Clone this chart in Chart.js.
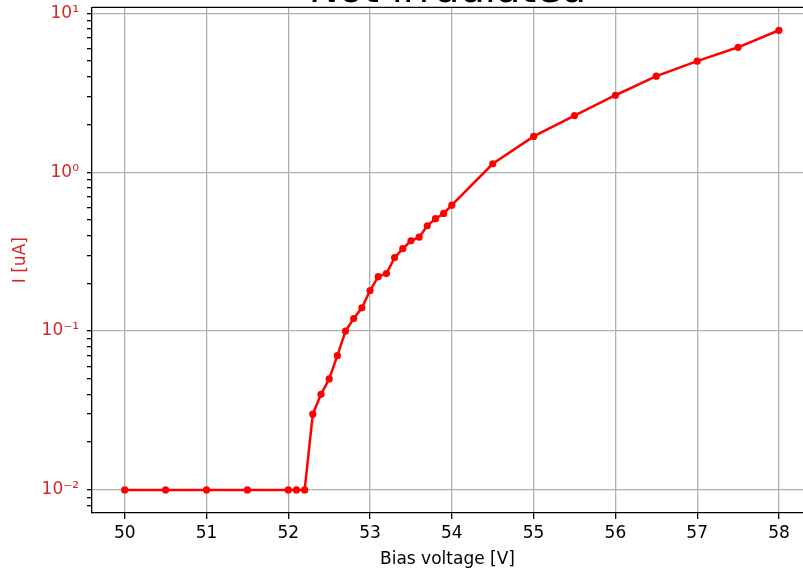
<!DOCTYPE html>
<html>
<head>
<meta charset="utf-8">
<title>Not irradiated</title>
<script src="https://cdn.jsdelivr.net/npm/chart.js@4/dist/chart.umd.min.js"></script>
<style>
    html, body { margin: 0; padding: 0; background: #fff; }
    canvas { display: block; }
</style>
</head>
<body>
<canvas id="iv-chart" width="803" height="569"></canvas>
<script>
// IV-Kurve, nicht bestrahlter Sensor
const biasVoltage = [50, 50.5, 51, 51.5, 52, 52.1, 52.2, 52.3, 52.4, 52.5, 52.6, 52.7, 52.8, 52.9,
    53.0, 53.1, 53.2, 53.3, 53.4, 53.5, 53.6, 53.7, 53.8, 53.9, 54.0, 54.5, 55, 55.5, 56, 56.5, 57, 57.5, 58];
const current = [0.01, 0.01, 0.01, 0.01, 0.01, 0.01, 0.01, 0.03, 0.04, 0.05, 0.07, 0.10, 0.12, 0.14,
    0.18, 0.22, 0.23, 0.29, 0.33, 0.37, 0.39, 0.46, 0.51, 0.55, 0.62, 1.13, 1.68, 2.27, 3.05, 4.02, 5.0, 6.11, 7.82];

const xTicks = [50, 51, 52, 53, 54, 55, 56, 57, 58];
const yMajorTicks = [0.01, 0.1, 1, 10];
const yMajorLabels = ['10⁻²', '10⁻¹', '10⁰', '10¹'];

const RED = '#d62728';
const GRID = '#b0b0b0';
const FONT = 'DejaVu Sans';

// Haupt- und Nebenticks (2..9 je Dekade)
function buildLogTicks(min, max) {
    const ticks = [];
    for (let e = -3; e <= 1; e++) {
        for (let m = 1; m <= 9; m++) {
            const v = m * Math.pow(10, e);
            if (v >= min && v <= max) ticks.push({ value: v });
        }
    }
    return ticks;
}

function majorIndex(v) {
    return yMajorTicks.findIndex(t => Math.abs(t - v) / t < 1e-9);
}

// obere Achsenlinie
const topSpinePlugin = {
    id: 'topSpine',
    afterDraw(chart) {
        const { ctx, chartArea: a } = chart;
        ctx.save();
        ctx.strokeStyle = '#000';
        ctx.lineWidth = 1.3;
        ctx.beginPath();
        ctx.moveTo(a.left, a.top);
        ctx.lineTo(a.right, a.top);
        ctx.stroke();
        ctx.restore();
    }
};

new Chart(document.getElementById('iv-chart'), {
    type: 'line',
    data: {
        datasets: [{
            data: biasVoltage.map((v, i) => ({ x: v, y: current[i] })),
            borderColor: '#ff0000',
            backgroundColor: '#ff0000',
            borderWidth: 2.5,
            pointRadius: 3.6,
            pointBorderWidth: 0,
            tension: 0
        }]
    },
    options: {
        responsive: false,
        animation: false,
        layout: {
            autoPadding: false,
            padding: 0
        },
        plugins: {
            legend: { display: false },
            tooltip: { enabled: false },
            title: {
                display: true,
                text: 'Not irradiated',
                fullSize: false,
                color: '#000',
                font: { family: FONT, size: 40, weight: 'normal' },
                padding: { top: -32.5, bottom: -8.2 }
            }
        },
        scales: {
            x: {
                type: 'linear',
                min: 49.6,
                max: 58.294,
                afterBuildTicks: s => { s.ticks = xTicks.map(v => ({ value: v })); },
                afterFit: s => { s.height = 56; s.paddingLeft = 0; s.paddingRight = 0; },
                ticks: {
                    color: '#000',
                    padding: 4,
                    autoSkip: false,
                    maxRotation: 0,
                    font: { family: FONT, size: 17 },
                    callback: v => String(v)
                },
                grid: {
                    color: GRID,
                    lineWidth: 1.3,
                    tickColor: '#000',
                    tickLength: 6,
                    tickWidth: 1.3
                },
                border: { display: true, color: '#000', width: 1.3 },
                title: {
                    display: true,
                    text: 'Bias voltage [V]',
                    color: '#000',
                    font: { family: FONT, size: 17 },
                    padding: { top: 0, bottom: -1 }
                }
            },
            y: {
                type: 'logarithmic',
                min: 0.00716,
                max: 10.91,
                afterBuildTicks: s => { s.ticks = buildLogTicks(s.min, s.max); },
                afterFit: s => { s.width = 92; s.paddingTop = 0; s.paddingBottom = 0; },
                ticks: {
                    color: RED,
                    padding: 8,
                    autoSkip: false,
                    font: { family: FONT, size: 17 },
                    callback: v => {
                        const i = majorIndex(v);
                        return i >= 0 ? yMajorLabels[i] : '';
                    }
                },
                grid: {
                    color: ctx => (ctx.tick && majorIndex(ctx.tick.value) >= 0) ? GRID : 'rgba(0,0,0,0)',
                    lineWidth: 1.3,
                    tickColor: '#000',
                    tickLength: 5,
                    tickWidth: 1.3
                },
                border: { display: true, color: '#000', width: 1.3 },
                title: {
                    display: true,
                    text: 'I [uA]',
                    color: RED,
                    font: { family: FONT, size: 17 },
                    padding: { top: 10, bottom: 0 }
                }
            }
        }
    },
    plugins: [topSpinePlugin]
});
</script>
</body>
</html>
